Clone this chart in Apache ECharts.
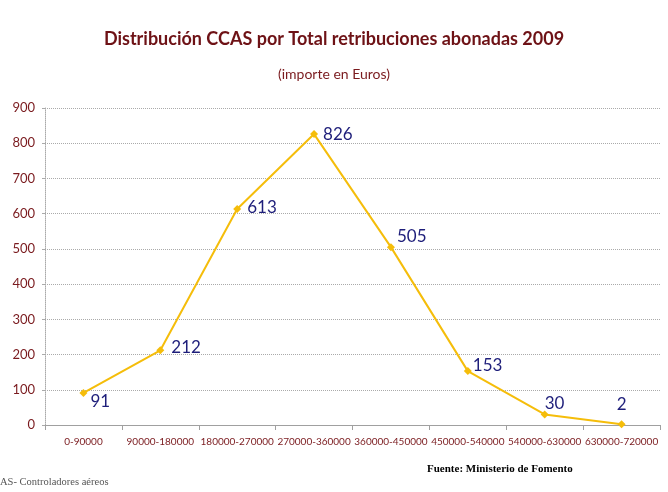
<!DOCTYPE html>
<html><head><meta charset="utf-8">
<script src="https://cdn.jsdelivr.net/npm/echarts@6/dist/echarts.min.js"></script>
<style>html,body{margin:0;padding:0;background:#fff}#c{width:668px;height:492px}</style>
</head><body><div id="c"></div>
<script>
const categories = ['0-90000','90000-180000','180000-270000','270000-360000','360000-450000','450000-540000','540000-630000','630000-720000'];
const values = [91,212,613,826,505,153,30,2];
const labelPositions = [['right',[-2,9]],['right',[2,-3]],['right',[1,-2]],['right',[0,0]],['right',[-3,-11]],['right',[-4,-6]],['right',[-9,-11]],['top',[0,-2]]];

const chart = echarts.init(document.getElementById('c'));
chart.setOption({
  animation:false,
  backgroundColor:'#fff',
  title:[
    {text:'Distribución CCAS por Total retribuciones abonadas 2009',left:'center',top:25,
     textStyle:{fontFamily:'Lato',fontSize:18,fontWeight:'bold',color:'#6e1216'}},
    {text:'(importe en Euros)',left:'center',top:62,
     textStyle:{fontFamily:'Lato',fontSize:14,fontWeight:'normal',color:'#7a1a1e'}}
  ],
  graphic:[
    {type:'text',left:427,top:464,style:{text:'Fuente: Ministerio de Fomento',font:'bold 11px "Liberation Serif"',fill:'#000'}},
    {type:'text',left:0,top:477,style:{text:'AS- Controladores aéreos',font:'10.5px "Liberation Serif"',fill:'#555'}}
  ],
  grid:{left:45,right:8,top:108,bottom:67,containLabel:false},
  xAxis:{type:'category',data:categories,boundaryGap:true,
    axisLine:{lineStyle:{color:'#a0a0a0'}},
    axisTick:{show:true,lineStyle:{color:'#a0a0a0'}},
    axisLabel:{color:'#7a1a1e',fontFamily:'Lato',fontSize:10,margin:12,interval:0}},
  yAxis:{type:'value',min:0,max:900,interval:100,
    axisLine:{show:true,lineStyle:{color:'#aaa',type:'dotted'}},
    axisTick:{show:true,length:3,lineStyle:{color:'#aaa'}},
    splitLine:{lineStyle:{color:'#aaa',type:'dotted'}},
    axisLabel:{color:'#7a1a1e',fontFamily:'Lato',fontSize:13,margin:10}},
  series:[{type:'line',data:values.map((v,i)=>({value:v,label:{position:labelPositions[i][0],offset:labelPositions[i][1]}})),
    symbol:'diamond',symbolSize:8,
    lineStyle:{color:'#f5bd0a',width:2},
    itemStyle:{color:'#f5bd0a'},
    label:{show:true,color:'#1e1e7a',fontFamily:'Lato',fontSize:17}}]
});
</script></body></html>
